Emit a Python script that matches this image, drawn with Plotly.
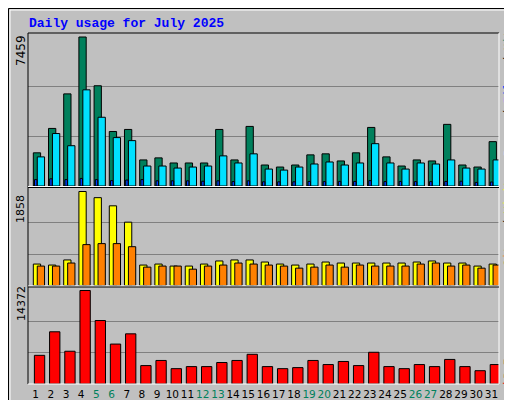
import plotly.graph_objects as go

days = list(range(1, 32))
hits = [1661,2882,4611,7459,5018,2729,2831,1305,1407,1153,1153,1153,2831,1305,2983,1051,949,1051,1559,1610,1254,1661,2932,1458,1000,1305,1254,3085,1051,949,2220]
files = [1458,2627,2017,4814,3441,2424,2271,1000,1000,898,949,1000,1509,1153,1610,848,797,949,1102,1203,1051,1153,2119,1153,848,1153,1102,1305,898,848,1305]
pages = [320,360,320,380,320,270,300,320,260,260,260,240,260,220,260,210,210,210,230,220,230,230,270,220,230,220,220,230,240,180,200]
visits = [424,404,505,1858,1736,1575,1252,404,424,384,384,424,485,505,505,464,424,404,424,464,444,444,444,444,444,464,485,444,444,384,424]
sites = [384,384,444,808,828,828,767,363,384,384,323,384,404,444,424,404,384,343,363,404,363,404,384,384,384,424,444,384,404,343,404]
kbytes = [4406,8025,5035,14372,9756,6137,7710,2832,3619,2360,2675,2675,3304,3619,4563,2675,2360,2518,3619,2990,3462,2832,4878,2675,2360,2990,2675,3776,2675,2046,2990]
weekend = [5,6,12,13,19,20,26,27]
title = "Daily usage for July 2025"

W, H = 512, 400
L, R, T, B = 20, 491, 25, 376
def px(x): return (x - L) / (R - L)
def py(y): return (B - y) / (B - T)

fig = go.Figure()
def bar(vals, color, off, width, ax):
    fig.add_trace(go.Bar(x=days, y=vals, marker=dict(color=color, line=dict(color="black", width=1)),
                         offset=off, width=width, xaxis="x", yaxis=ax, showlegend=False, hoverinfo="skip"))

bar(hits, "#00805c", -0.15, 0.48, "y")
bar(files, "#00e0ff", 0.11, 0.48, "y")
bar(pages, "#0040ff", -0.07, 0.16, "y")
bar(visits, "#ffff00", -0.15, 0.48, "y2")
bar(sites, "#ff8000", 0.11, 0.48, "y2")
bar(kbytes, "#ff0000", -0.08, 0.68, "y3")

def yax(domain, mx, toppx, botpx):
    span = (botpx - toppx)
    rng = mx * span / (span - 4)
    return dict(domain=domain, range=[0, rng], tickvals=[mx/3, 2*mx/3], showticklabels=False, automargin=False,
                showgrid=True, gridcolor="#808080", gridwidth=1, zeroline=False, fixedrange=True)

d1 = [py(178), 1]
d2 = [py(277.5), py(179.5)]
d3 = [0, py(278.5)]
ticktext = [f'<span style="color:#00805c">{d}</span>' if d in weekend else str(d) for d in days]
fig.update_layout(
    width=W, height=H, margin=dict(l=L, r=W - R, t=T, b=H - B, autoexpand=False),
    paper_bgcolor="#c0c0c0", plot_bgcolor="#c0c0c0", barmode="overlay",
    font=dict(family="DejaVu Sans", size=11, color="black"),
    xaxis=dict(range=[0.5, 31.5], tickvals=days, ticktext=ticktext, showgrid=False, zeroline=False,
               anchor="y3", ticks="", tickangle=0, automargin=False, ticklabelstandoff=2,
               tickfont=dict(size=10.5), fixedrange=True),
    yaxis=yax(d1, 7459, 25, 178),
    yaxis2=yax(d2, 1858, 179.5, 277.5),
    yaxis3=yax(d3, 14372, 278.5, 376),
)

shapes = []
def line(x0, y0, x1, y1, color, w=1):
    shapes.append(dict(type="line", xref="paper", yref="paper", x0=px(x0), y0=py(y0), x1=px(x1), y1=py(y1),
                       line=dict(color=color, width=w), layer="above"))
line(0.5, 0.5, 511.5, 0.5, "black"); line(0.5, 0.5, 0.5, 399.5, "black")
line(511.5, 0.5, 511.5, 399.5, "black"); line(0.5, 399.5, 511.5, 399.5, "black")
line(2, 2, 509, 2, "white"); line(2, 2, 2, 397, "white")
line(509, 2, 509, 397, "#808080"); line(2, 397, 509, 397, "#808080")
line(3, 396, 508, 396, "#808080"); line(508, 3, 508, 396, "#808080")
line(L, T, R, T, "black"); line(L, T, L, B, "black")
line(R, T, R, B, "white"); line(L, B, R, B, "white")
line(L, 178.5, R, 178.5, "white"); line(L, 278, R, 278, "white")
line(L, 179.5, R, 179.5, "black"); line(L, 279, R, 279, "black")
fig.update_layout(shapes=shapes)

ann = []
def text(x, y, t, angle=0, size=11, xa="center", ya="middle", fam="DejaVu Sans"):
    ann.append(dict(x=px(x), y=py(y), xref="paper", yref="paper", text=t, showarrow=False, textangle=angle,
                    xanchor=xa, yanchor=ya, font=dict(size=size, family=fam)))
text(19, 15, f'<b><span style="color:#0000ff">{title}</span></b>', size=13, xa="left", fam="Liberation Mono")
text(13, 43, "7459", angle=-90, size=12)
text(13, 201, "1858", angle=-90, size=11)
text(13, 296, "14372", angle=-90, size=11)
text(500, 82, '<span style="color:#00e0ff">Pages</span> / <span style="color:#0040ff">Files</span> / <span style="color:#00805c">Hits</span>',
     angle=-90, size=11, fam="Liberation Mono")
text(500, 212, '<span style="color:#ff8000">Sites</span> / <span style="color:#ffff00">Visits</span>',
     angle=-90, size=11, fam="Liberation Mono")
text(500, 364, '<span style="color:#ff0000">kB F</span>', angle=-90, size=11, fam="Liberation Mono")
fig.update_layout(annotations=ann)

fig.write_html("out.html", config={"displayModeBar": False})
